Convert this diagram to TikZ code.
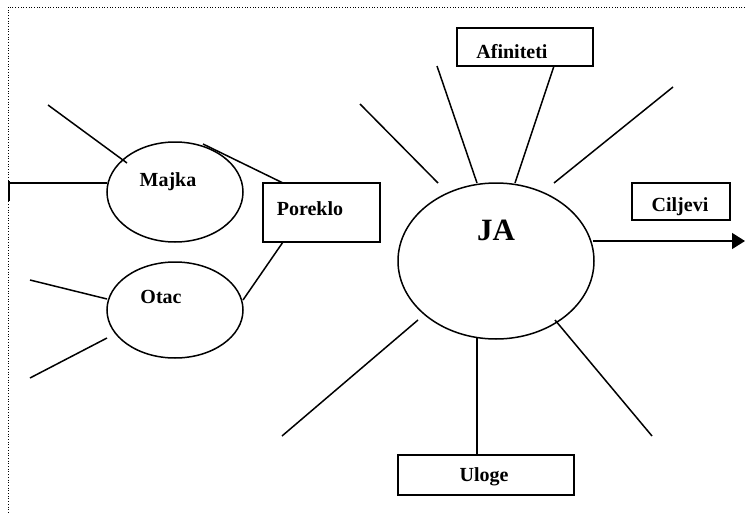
\documentclass[tikz,border=0pt]{standalone}
\usepackage{fontspec}
\setmainfont{Liberation Serif}
\usetikzlibrary{shapes.geometric,arrows.meta}
\begin{document}
\begin{tikzpicture}[x=1pt,y=-1pt,
  ln/.style={line width=1.5pt},
  ell/.style={draw,ellipse,line width=1.5pt,inner sep=0pt},
  box/.style={draw,rectangle,line width=1.8pt,inner sep=0pt},
  lbl/.style={anchor=base,inner sep=0pt,font=\fontsize{20}{24}\selectfont\bfseries},
  big/.style={anchor=base,inner sep=0pt,font=\fontsize{31}{36}\selectfont\bfseries},
  frame/.style={line width=0.9pt,dash pattern=on 0.9pt off 1.8pt}]
\useasboundingbox (0,0) rectangle (745,514);
% frame
\coordinate (fr1) at (745,7);
\coordinate (fr2) at (8,7);
\coordinate (fr3) at (8,514);
\draw[frame] (fr1) -- (fr2) -- (fr3);
% ellipses
\node[ell,minimum width=136pt,minimum height=100pt] (majka) at (175,192) {};
\node[ell,minimum width=136pt,minimum height=96pt] (otac) at (175,310) {};
\node[ell,minimum width=196pt,minimum height=156pt] (ja) at (496,261) {};
\node[lbl] (majkaT) at (168,186) {Majka};
\node[lbl] (otacT) at (161,303) {Otac};
\node[big] (jaT) at (496,240) {JA};
% boxes
\node[box,minimum width=117pt,minimum height=59pt] (poreklo) at (321.5,212.5) {};
\node[box,minimum width=136pt,minimum height=38pt] (afin) at (525,47) {};
\node[box,minimum width=98pt,minimum height=37pt] (cilj) at (681,201.5) {};
\node[box,minimum width=176pt,minimum height=40pt] (uloge) at (486,475) {};
\node[lbl] (porekloT) at (310,215) {Poreklo};
\node[lbl] (afinT) at (512,58) {Afiniteti};
\node[lbl] (ciljT) at (680,211) {Ciljevi};
\node[lbl] (ulogeT) at (484,481) {Uloge};
% coordinates for line ends
\coordinate (m1a) at (48,105);   \coordinate (m1b) at (127,163);
\coordinate (m2a) at (9,183);    \coordinate (m2b) at (107,183);
\coordinate (t1) at (9,181);     \coordinate (t2) at (9,201);
\coordinate (mp1) at (203,144);  \coordinate (mp2) at (283,183);
\coordinate (op1) at (243,300);  \coordinate (op2) at (283,242);
\coordinate (o1a) at (30,280);   \coordinate (o1b) at (107,299);
\coordinate (o2a) at (30,378);   \coordinate (o2b) at (107,338);
\coordinate (j1a) at (360,104);  \coordinate (j1b) at (438,183);
\coordinate (j2a) at (437,66);   \coordinate (j2b) at (477,183);
\coordinate (j3a) at (554,66);   \coordinate (j3b) at (515,183);
\coordinate (j4a) at (673,87);   \coordinate (j4b) at (554,183);
\coordinate (j5a) at (418,320);  \coordinate (j5b) at (282,436);
\coordinate (j6a) at (477,338);  \coordinate (j6b) at (477,455);
\coordinate (j7a) at (555,320);  \coordinate (j7b) at (652,436);
\coordinate (ar1) at (593,241);  \coordinate (ar2) at (745,241);
% lines
\draw[ln] (m1a) -- (m1b);
\draw[ln] (m2a) -- (m2b);
\draw[line width=1.8pt] (t1) -- (t2);
\draw[ln] (mp1) -- (mp2);
\draw[ln] (op1) -- (op2);
\draw[ln] (o1a) -- (o1b);
\draw[ln] (o2a) -- (o2b);
\draw[ln] (j1a) -- (j1b);
\draw[ln] (j2a) -- (j2b);
\draw[ln] (j3a) -- (j3b);
\draw[ln] (j4a) -- (j4b);
\draw[ln] (j5a) -- (j5b);
\draw[ln] (j6a) -- (j6b);
\draw[ln] (j7a) -- (j7b);
\draw[ln,-{Triangle[length=13pt,width=16pt]}] (ar1) -- (ar2);
\end{tikzpicture}
\end{document}
